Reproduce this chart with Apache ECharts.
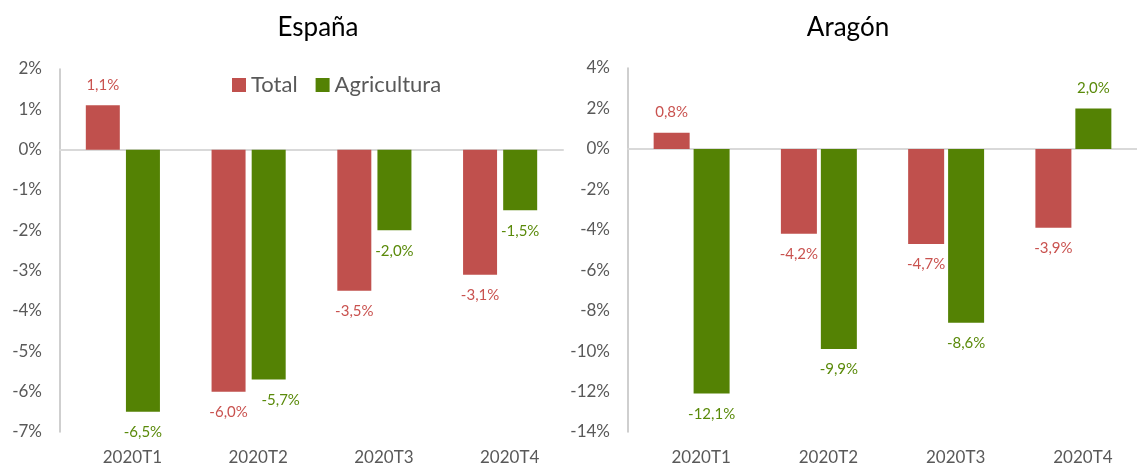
<!DOCTYPE html>
<html>
<head>
<meta charset="utf-8">
<script src="https://cdn.jsdelivr.net/npm/echarts@6/dist/echarts.min.js"></script>
<style>
  html, body { margin: 0; padding: 0; background: #fff; }
  #chart { width: 1137px; height: 468px; }
</style>
</head>
<body>
<div id="chart"></div>
<script>
// ---- data ----
const categories = ['2020T1', '2020T2', '2020T3', '2020T4'];
const seriesNames = ['Total', 'Agricultura'];
const espanaTotal = [1.1, -6.0, -3.5, -3.1];
const espanaAgricultura = [-6.5, -5.7, -2.0, -1.5];
const aragonTotal = [0.8, -4.2, -4.7, -3.9];
const aragonAgricultura = [-12.1, -9.9, -8.6, 2.0];
const espanaAxis = { min: -7, max: 2, interval: 1 };
const aragonAxis = { min: -14, max: 4, interval: 2 };
const titles = ['España', 'Aragón'];

// ---- styling ----
const FONT = 'Lato, "Open Sans", "Noto Sans", sans-serif';
const RED = '#C0504D';
const GREEN = '#548204';
const RED_LABEL = '#C9524F';
const GREEN_LABEL = '#5A8A0A';
const GRAY_TEXT = '#595959';

function fmt(p) {
  return p.value.toFixed(1).replace('.', ',') + '%';
}
function items(vals, offsets) {
  return vals.map(function (v, i) {
    return {
      value: v,
      label: {
        position: v < 0 ? 'bottom' : 'top',
        offset: (offsets && offsets[i]) || [0, 0]
      }
    };
  });
}
function barSeries(name, vals, color, labelColor, gridIdx, barGap, barWidth, offsets) {
  return {
    name: name,
    type: 'bar',
    xAxisIndex: gridIdx * 2,
    yAxisIndex: gridIdx,
    data: items(vals, offsets),
    barWidth: barWidth,
    barGap: barGap,
    itemStyle: { color: color },
    label: {
      show: true,
      distance: 13,
      formatter: fmt,
      color: labelColor,
      fontSize: 15,
      fontFamily: FONT
    },
    z: 3
  };
}
function catAxis(gridIdx) {
  return {
    type: 'category',
    gridIndex: gridIdx,
    data: categories,
    position: 'bottom',
    axisLine: { show: false, onZero: false },
    axisTick: { show: false },
    axisLabel: {
      color: GRAY_TEXT, fontSize: 17, fontFamily: FONT, margin: 17,
      padding: [0, 0, 0, 19]
    },
    splitLine: { show: false }
  };
}
function zeroAxis(gridIdx) {
  return {
    type: 'category',
    gridIndex: gridIdx,
    data: categories,
    axisLine: { show: true, onZero: true, lineStyle: { color: '#D9D9D9', width: 2 } },
    axisTick: { show: false },
    axisLabel: { show: false },
    splitLine: { show: false },
    z: 1
  };
}
function valAxis(gridIdx, cfg) {
  return {
    type: 'value',
    gridIndex: gridIdx,
    min: cfg.min,
    max: cfg.max,
    interval: cfg.interval,
    axisLine: { show: true, lineStyle: { color: '#BFBFBF', width: 1.5 } },
    axisTick: { show: false },
    splitLine: { show: false },
    axisLabel: {
      formatter: '{value}%', color: GRAY_TEXT, fontSize: 17, fontFamily: FONT, margin: 18
    }
  };
}

const chart = echarts.init(document.getElementById('chart'));
chart.setOption({
  animation: false,
  backgroundColor: '#fff',
  textStyle: { fontFamily: FONT },
  graphic: [
    { type: 'text', x: 318, y: 28, style: { text: titles[0], fontSize: 26, fontFamily: FONT, fill: '#000', textAlign: 'center', textVerticalAlign: 'middle' } },
    { type: 'text', x: 848, y: 28, style: { text: titles[1], fontSize: 26, fontFamily: FONT, fill: '#000', textAlign: 'center', textVerticalAlign: 'middle' } }
  ],
  legend: {
    data: seriesNames,
    left: 232,
    top: 74,
    padding: 0,
    itemWidth: 14,
    itemHeight: 14,
    itemGap: 18,
    icon: 'rect',
    textStyle: { color: GRAY_TEXT, fontSize: 22, fontFamily: FONT }
  },
  grid: [
    { left: 60, top: 69, width: 503, height: 363 },
    { left: 628, top: 68, width: 509, height: 364 }
  ],
  xAxis: [catAxis(0), zeroAxis(0), catAxis(1), zeroAxis(1)],
  yAxis: [valAxis(0, espanaAxis), valAxis(1, aragonAxis)],
  series: [
    barSeries(seriesNames[0], espanaTotal, RED, RED_LABEL, 0, '18%', 34),
    barSeries(seriesNames[1], espanaAgricultura, GREEN, GREEN_LABEL, 0, '18%', 34, [null, [12, 0], null, null]),
    barSeries(seriesNames[0], aragonTotal, RED, RED_LABEL, 1, '11%', 36),
    barSeries(seriesNames[1], aragonAgricultura, GREEN, GREEN_LABEL, 1, '11%', 36)
  ]
});
</script>
</body>
</html>
